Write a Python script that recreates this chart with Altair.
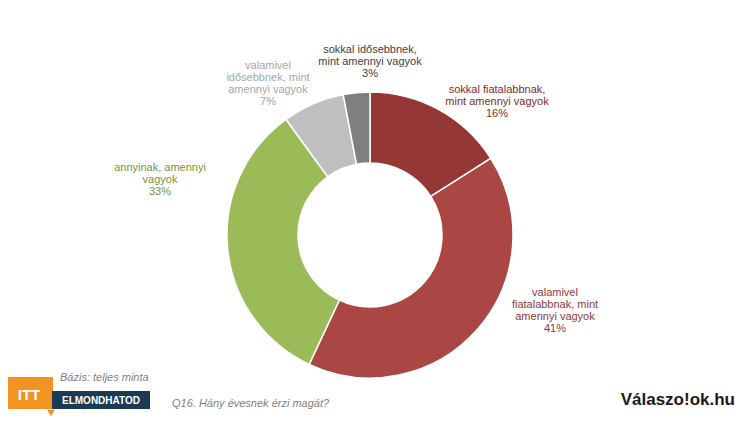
import altair as alt
import pandas as pd

# ---- data ----
categories = [
    "sokkal fiatalabbnak, mint amennyi vagyok",
    "valamivel fiatalabbnak, mint amennyi vagyok",
    "annyinak, amennyi vagyok",
    "valamivel idősebbnek, mint amennyi vagyok",
    "sokkal idősebbnek, mint amennyi vagyok",
]
values = [16, 41, 33, 7, 3]
label_texts = [
    "sokkal fiatalabbnak,\nmint amennyi vagyok\n16%",
    "valamivel\nfiatalabbnak, mint\namennyi vagyok\n41%",
    "annyinak, amennyi\nvagyok\n33%",
    "valamivel\nidősebbnek, mint\namennyi vagyok\n7%",
    "sokkal idősebbnek,\nmint amennyi vagyok\n3%",
]

# ---- styling / layout (not data) ----
slice_colors = ["#953735", "#AA4643", "#9BBB59", "#BFBFBF", "#7F7F7F"]
label_colors = ["#7F2C2A", "#8E3A38", "#77933C", "#A6A6A6", "#404040"]
label_x = [489, 547, 152, 260, 362]
label_y = [82, 285, 160, 58, 42]

W, H = 731, 409
CX, CY = 362, 227

df = pd.DataFrame({
    "cat": categories,
    "value": values,
    "idx": list(range(len(values))),
    "color": slice_colors,
})
lab = pd.DataFrame({
    "text": label_texts,
    "color": label_colors,
    "lx": label_x,
    "ly": label_y,
})

arcs = alt.Chart(df).mark_arc(radius=143, radius2=72, stroke="white", strokeWidth=1.5).encode(
    theta=alt.Theta("value:Q", stack=True),
    order=alt.Order("idx:Q"),
    color=alt.Color("color:N", scale=None),
    x=alt.value(CX),
    y=alt.value(CY),
)

labels = alt.Chart(lab).mark_text(
    lineBreak="\n", fontSize=11, font="Liberation Sans", lineHeight=12,
    align="center", baseline="middle",
).encode(
    x=alt.X("lx:Q", scale=None),
    y=alt.Y("ly:Q", scale=None),
    text="text:N",
    color=alt.Color("color:N", scale=None),
)

# footer / branding
base = alt.Chart(pd.DataFrame({"d": [0]}))
orange = base.mark_rect(color="#F39321").encode(
    x=alt.value(0), x2=alt.value(45), y=alt.value(369), y2=alt.value(401))
tail = base.mark_point(shape="triangle-down", filled=True, color="#F39321", size=60, opacity=1).encode(
    x=alt.value(43), y=alt.value(405))
navy = base.mark_rect(color="#1B3A56").encode(
    x=alt.value(44), x2=alt.value(142), y=alt.value(383), y2=alt.value(401))
itt = base.mark_text(text="ITT", color="white", fontWeight="bold", fontSize=15,
                     font="Liberation Sans", align="center", baseline="middle").encode(
    x=alt.value(21), y=alt.value(387))
elm = base.mark_text(text="ELMONDHATOD", color="white", fontWeight="bold", fontSize=10,
                     font="Liberation Sans", align="center", baseline="middle").encode(
    x=alt.value(93), y=alt.value(393))
bazis = base.mark_text(text="Bázis: teljes minta", color="#7F7F7F", fontStyle="italic", fontSize=11,
                       font="Liberation Sans", align="left", baseline="middle").encode(
    x=alt.value(52), y=alt.value(370))
q16 = base.mark_text(text="Q16. Hány évesnek érzi magát?", color="#7F7F7F", fontStyle="italic", fontSize=11,
                     font="Liberation Sans", align="left", baseline="middle").encode(
    x=alt.value(164), y=alt.value(396))
brand = base.mark_text(text="Válaszo!ok.hu", color="#1A1A1A", fontWeight="bold", fontSize=17,
                       font="Liberation Sans", align="right", baseline="middle").encode(
    x=alt.value(727), y=alt.value(392))

chart = alt.layer(arcs, labels, orange, tail, navy, itt, elm, bazis, q16, brand).properties(
    width=W, height=H, padding=0, autosize=alt.AutoSizeParams(type="none"),
).configure_view(stroke=None)

chart.save("out.html", embed_options={"renderer": "svg", "actions": False})
